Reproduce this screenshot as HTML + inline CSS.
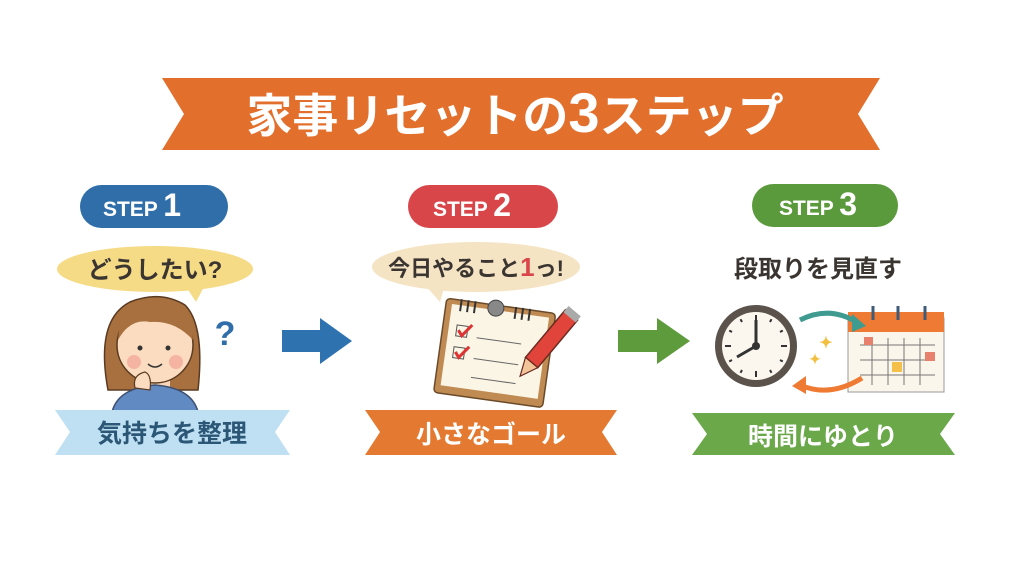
<!DOCTYPE html>
<html><head><meta charset="utf-8"><style>
html,body{margin:0;padding:0;background:#fff;}
svg{display:block}
text{font-family:"Liberation Sans","Noto Sans CJK JP",sans-serif;font-weight:bold}
</style></head><body>
<svg width="1024" height="576" viewBox="0 0 1024 576" xmlns="http://www.w3.org/2000/svg">
<rect width="1024" height="576" fill="#fff"/>
<!-- Title banner -->
<polygon points="162,78 880,78 858,114 880,150 162,150 184,114" fill="#e36f2d"/>
<text x="515" y="132" font-size="46" fill="#fff" text-anchor="middle">家事リセットの<tspan font-size="56">3</tspan>ステップ</text>

<!-- Step pills -->
<rect x="80" y="185" width="148" height="43" rx="21.5" fill="#2f6ea9"/>
<text x="142" y="216" font-size="21" fill="#fff" text-anchor="middle">STEP <tspan font-size="32">1</tspan></text>
<rect x="408" y="185" width="150" height="43" rx="21.5" fill="#d9464a"/>
<text x="472" y="216" font-size="21" fill="#fff" text-anchor="middle">STEP <tspan font-size="32">2</tspan></text>
<rect x="752" y="184" width="146" height="43" rx="21.5" fill="#5b9a3c"/>
<text x="818" y="215" font-size="21" fill="#fff" text-anchor="middle">STEP <tspan font-size="32">3</tspan></text>

<!-- Bubbles -->
<ellipse cx="155" cy="269" rx="98" ry="23" fill="#f6db86"/>
<polygon points="185,285 205,285 196,302" fill="#f6db86"/>
<text x="155" y="278" font-size="24" fill="#3a3530" text-anchor="middle">どうしたい?</text>
<ellipse cx="476" cy="267" rx="104" ry="25" fill="#f5e4c4"/>
<polygon points="425,285 445,285 440,302" fill="#f5e4c4"/>
<text x="476" y="276" font-size="22" fill="#3a3530" text-anchor="middle">今日やること<tspan fill="#d9464a" font-size="26">1</tspan>っ!</text>
<text x="818" y="277" font-size="24" fill="#3a3530" text-anchor="middle">段取りを見直す</text>

<!-- Person -->
<path d="M108,390 Q95,320 130,302 Q160,290 185,305 Q205,325 198,390 Z" fill="#a8703e" stroke="#5a3a20" stroke-width="1.5"/>
<rect x="140" y="370" width="30" height="20" fill="#f8d5b8"/>
<path d="M112,412 Q118,388 155,385 Q192,388 198,412 Z" fill="#6189c2" stroke="#3e4f70" stroke-width="1.5"/>
<ellipse cx="155" cy="345" rx="38" ry="38" fill="#fbdcc0" stroke="#5a3a20" stroke-width="1.5"/>
<path d="M118,340 Q120,300 160,302 Q190,305 193,340 Q175,320 150,322 Q130,318 118,340 Z" fill="#a8703e"/>
<circle cx="140" cy="348" r="2.5" fill="#333"/><circle cx="168" cy="348" r="2.5" fill="#333"/>
<circle cx="134" cy="362" r="7" fill="#f4a99a" opacity=".8"/><circle cx="176" cy="362" r="7" fill="#f4a99a" opacity=".8"/>
<path d="M148,364 Q155,370 162,364" stroke="#333" stroke-width="1.5" fill="none"/>
<path d="M135,388 Q132,375 145,372 Q152,375 150,390 Z" fill="#fbdcc0" stroke="#5a3a20" stroke-width="1.2"/>
<text x="225" y="345" font-size="34" fill="#2f6ea9" text-anchor="middle">?</text>

<!-- Ribbons -->
<polygon points="55,410 290,410 275,432 290,455 55,455 70,432" fill="#bfe0f2"/>
<text x="172" y="442" font-size="25" fill="#2b5676" text-anchor="middle">気持ちを整理</text>
<polygon points="365,410 617,410 602,432 617,455 365,455 380,432" fill="#e47a31"/>
<text x="491" y="443" font-size="25" fill="#fff" text-anchor="middle">小さなゴール</text>
<polygon points="692,413 955,413 940,434 955,455 692,455 707,434" fill="#6aa84a"/>
<text x="823" y="445" font-size="25" fill="#fff" text-anchor="middle">時間にゆとり</text>

<!-- Arrows -->
<polygon points="282,330 320,330 320,318 352,341 320,364 320,352 282,352" fill="#2f72b0"/>
<polygon points="618,330 657,330 657,318 690,341 657,364 657,352 618,352" fill="#5e9b3d"/>

<!-- Notepad -->
<g transform="rotate(8 492 350)">
<rect x="440" y="305" width="110" height="95" rx="4" fill="#c08b52" stroke="#6b4a2a" stroke-width="1.5"/>
<rect x="446" y="310" width="98" height="82" fill="#fbf5e6"/>
<line x1="455" y1="304" x2="455" y2="316" stroke="#333" stroke-width="2"/><line x1="462" y1="304" x2="462" y2="316" stroke="#333" stroke-width="2"/><line x1="469" y1="304" x2="469" y2="316" stroke="#333" stroke-width="2"/>
<line x1="510" y1="304" x2="510" y2="316" stroke="#333" stroke-width="2"/><line x1="517" y1="304" x2="517" y2="316" stroke="#333" stroke-width="2"/><line x1="524" y1="304" x2="524" y2="316" stroke="#333" stroke-width="2"/>
<circle cx="490" cy="308" r="8" fill="#888" stroke="#444"/>
<rect x="454" y="330" width="11" height="11" fill="none" stroke="#555"/><path d="M456,335 L460,340 L469,328" stroke="#d33" stroke-width="3" fill="none"/>
<rect x="454" y="352" width="11" height="11" fill="none" stroke="#555"/><path d="M456,357 L460,362 L469,350" stroke="#d33" stroke-width="3" fill="none"/>
<line x1="475" y1="340" x2="520" y2="340" stroke="#666"/><line x1="475" y1="361" x2="520" y2="361" stroke="#666"/><line x1="475" y1="380" x2="520" y2="380" stroke="#666"/>
</g>
<g transform="rotate(40 545 345)">
<rect x="538" y="305" width="16" height="62" fill="#e0443a" stroke="#6b2a20" stroke-width="1.5"/>
<polygon points="538,367 554,367 546,385" fill="#f2c49a" stroke="#6b2a20" stroke-width="1.2"/>
<rect x="538" y="300" width="16" height="8" fill="#aaa"/>
</g>

<!-- Clock -->
<circle cx="756" cy="346" r="41" fill="#5a524b"/>
<circle cx="756" cy="346" r="34" fill="#fbf7ee"/>
<g stroke="#333" stroke-width="2">
<line x1="756" y1="315" x2="756" y2="321"/><line x1="756" y1="371" x2="756" y2="377"/>
<line x1="725" y1="346" x2="731" y2="346"/><line x1="781" y1="346" x2="787" y2="346"/>
<line x1="771.5" y1="319.2" x2="770" y2="322"/><line x1="782.8" y1="330.5" x2="780" y2="332"/>
<line x1="782.8" y1="361.5" x2="780" y2="360"/><line x1="771.5" y1="372.8" x2="770" y2="370"/>
<line x1="740.5" y1="372.8" x2="742" y2="370"/><line x1="729.2" y1="361.5" x2="732" y2="360"/>
<line x1="729.2" y1="330.5" x2="732" y2="332"/><line x1="740.5" y1="319.2" x2="742" y2="322"/>
</g>
<line x1="756" y1="346" x2="756" y2="320" stroke="#333" stroke-width="3"/>
<line x1="756" y1="346" x2="737" y2="357" stroke="#333" stroke-width="3"/>
<circle cx="756" cy="346" r="4" fill="#333"/>
<!-- Calendar -->
<rect x="848" y="318" width="96" height="74" fill="#fbf6ec" stroke="#999"/>
<rect x="848" y="312" width="96" height="20" fill="#ee7a34"/>
<line x1="873" y1="306" x2="873" y2="320" stroke="#3e5b7a" stroke-width="3"/><line x1="898" y1="306" x2="898" y2="320" stroke="#3e5b7a" stroke-width="3"/><line x1="925" y1="306" x2="925" y2="320" stroke="#3e5b7a" stroke-width="3"/>
<g stroke="#777" stroke-width="1"><line x1="860" y1="345" x2="935" y2="345"/><line x1="860" y1="360" x2="935" y2="360"/><line x1="860" y1="375" x2="935" y2="375"/>
<line x1="872" y1="338" x2="872" y2="385"/><line x1="888" y1="338" x2="888" y2="385"/><line x1="904" y1="338" x2="904" y2="385"/><line x1="920" y1="338" x2="920" y2="385"/></g>
<rect x="864" y="337" width="9" height="8" fill="#e8806e"/><rect x="925" y="352" width="10" height="9" fill="#e8806e"/><rect x="892" y="362" width="10" height="10" fill="#f5c04a"/>
<path d="M800,320 Q830,305 858,323" stroke="#3f9a90" stroke-width="5" fill="none"/><polygon points="852,314 866,326 852,332" fill="#3f9a90"/>
<path d="M862,378 Q830,398 800,385" stroke="#ef7a33" stroke-width="5" fill="none"/><polygon points="806,376 792,386 806,394" fill="#ef7a33"/>
<text x="826" y="348" font-size="16" fill="#f2c040" text-anchor="middle">✦</text><text x="815" y="364" font-size="14" fill="#f2c040" text-anchor="middle">✦</text>
</svg>
</body></html>
